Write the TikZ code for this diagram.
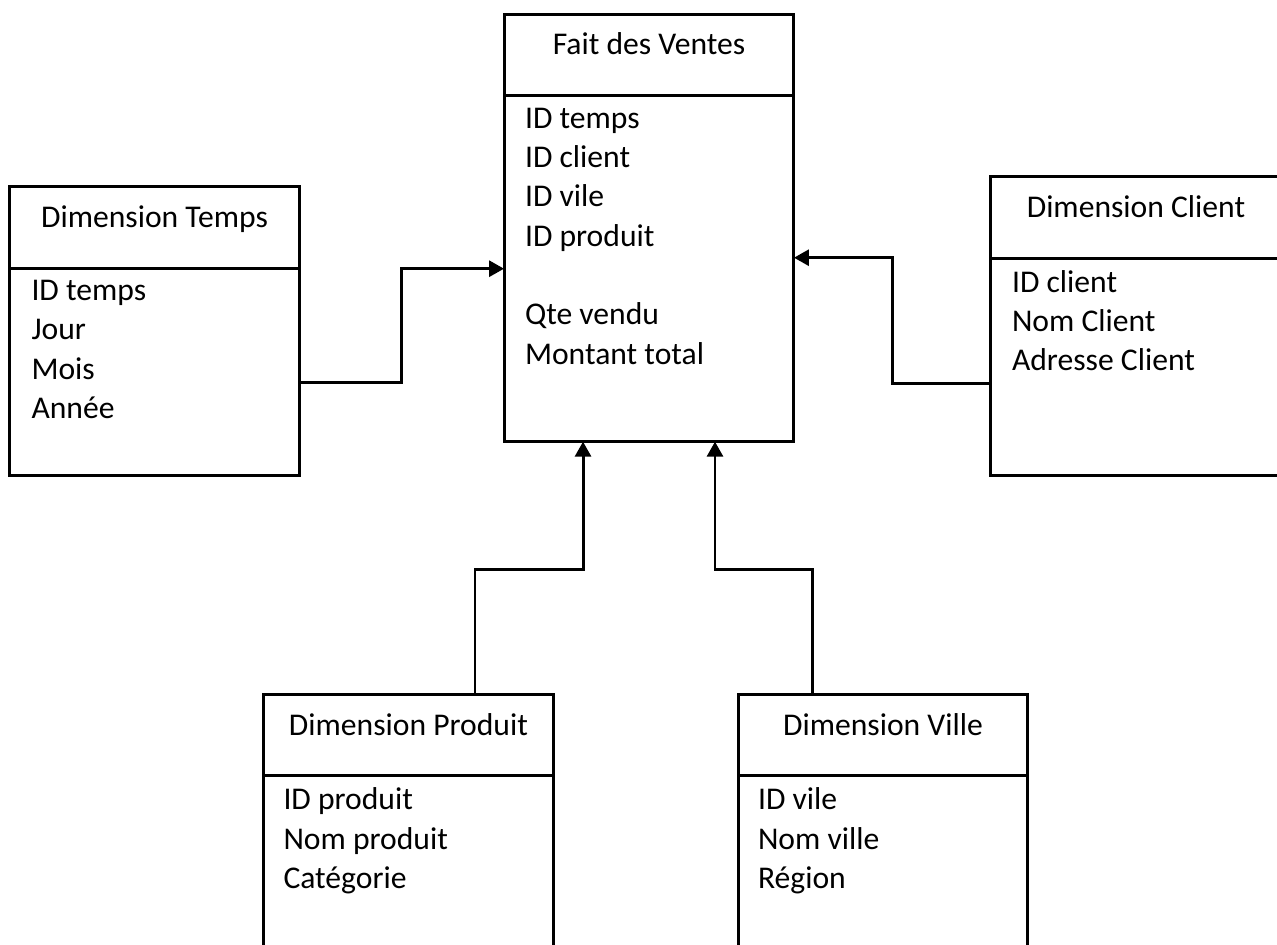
\documentclass[tikz,border=0pt]{standalone}
\usepackage{fontspec}
\setmainfont{Carlito}
\usetikzlibrary{positioning,arrows.meta}

\begin{document}
\begin{tikzpicture}[x=0.02cm,y=-0.02cm,
	font=\fontsize{18}{22.4}\selectfont,
	every node/.style={outer sep=0pt},
	head/.style={draw,line width=1.7pt,minimum width=5.8cm,minimum height=1.63cm,text height=0.45cm,text depth=0.45cm},
	body/.style={draw,line width=1.7pt,minimum width=5.8cm},
	items/.style={anchor=north west,align=left,inner sep=0pt},
	link/.style={line width=1.7pt,-{Triangle[length=0.3cm,width=0.32cm]}}]
	\clip (0,0) rectangle (1277,945);
	% fact table
	\node[head] (fait) at (649,55) {Fait des Ventes};
	\node[body,minimum height=6.92cm,below=0pt of fait] (faitbody) {};
	\node[items] (faitattr) at ([xshift=0.42cm,yshift=-0.24cm]faitbody.north west) {ID temps\\ID client\\ID vile\\ID produit\\ \mbox{}\\Qte vendu\\Montant total};
	% dimensions
	\node[head] (temps) at (154.5,227.5) {Dimension Temps};
	\node[body,minimum height=4.14cm,below=0pt of temps] (tempsbody) {};
	\node[items] (tempsattr) at ([xshift=0.44cm,yshift=-0.24cm]tempsbody.north west) {ID temps\\Jour\\Mois\\Année};
	\node[head,minimum width=5.84cm] (client) at (1136,217.5) {Dimension Client};
	\node[body,minimum width=5.84cm,minimum height=4.34cm,below=0pt of client] (clientbody) {};
	\node[items] (clientattr) at ([xshift=0.44cm,yshift=-0.24cm]clientbody.north west) {ID client\\Nom Client\\Adresse Client};
	\node[head] (produit) at (408.5,735) {Dimension Produit};
	\node[body,minimum height=4.2cm,below=0pt of produit] (produitbody) {};
	\node[items] (produitattr) at ([xshift=0.4cm,yshift=-0.24cm]produitbody.north west) {ID produit\\Nom produit\\Catégorie};
	\node[head] (ville) at (883,735) {Dimension Ville};
	\node[body,minimum height=4.2cm,below=0pt of ville] (villebody) {};
	\node[items] (villeattr) at ([xshift=0.4cm,yshift=-0.24cm]villebody.north west) {ID vile\\Nom ville\\Région};
	% links to the fact table
	\draw[link] ([yshift=-0.21cm]tempsbody.east) -- ++(102,0) |- (faitbody.west);
	\draw[link] ([yshift=-0.33cm]clientbody.west) -- ++(-98,0) |- ([yshift=0.22cm]faitbody.east);
	\draw[link] ([xshift=1.33cm]produit.north) -- ++(0,-125) -| ([xshift=-1.32cm]faitbody.south);
	\draw[link] ([xshift=-1.42cm]ville.north) -- ++(0,-125) -| ([xshift=1.32cm]faitbody.south);
\end{tikzpicture}
\end{document}
